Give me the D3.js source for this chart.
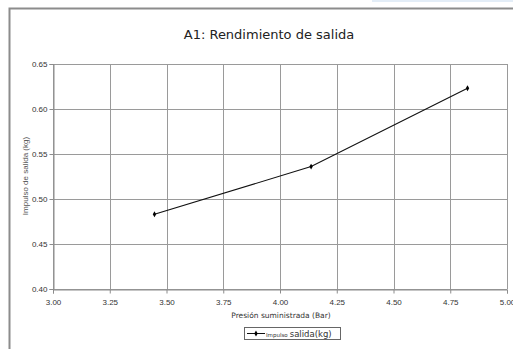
<!DOCTYPE html>
<html><head><meta charset="utf-8">
<script src="https://cdn.jsdelivr.net/npm/d3@7"></script>
<style>body{margin:0;background:#fff;}svg{display:block;}</style>
</head><body>
<script>
const pressure = [3.447, 4.137, 4.826];
const impulse = [0.483, 0.536, 0.623];
const xTicks = [3.00, 3.25, 3.50, 3.75, 4.00, 4.25, 4.50, 4.75, 5.00];
const yTicks = [0.40, 0.45, 0.50, 0.55, 0.60, 0.65];
const title = "A1: Rendimiento de salida";
const xTitle = "Presión suministrada (Bar)";
const yTitle = "Impulso de salida (kg)";
const seriesName = ["Impulso", "salida(kg)"];

const W = 513, H = 349;
const svg = d3.select("body").append("svg").attr("width", W).attr("height", H);
const font = "DejaVu Sans, sans-serif";
const font2 = "Liberation Sans, Arial, sans-serif";

// top-right light bar
svg.append("rect").attr("x", 372).attr("y", 0).attr("width", 141).attr("height", 2).attr("fill", "#e3edf7");
// outer frame
svg.append("path").attr("d", "M9.5,349 V8.5 H513").attr("fill", "none").attr("stroke", "#8c8c8c").attr("stroke-width", 2);

const L = 53, R = 507, T = 64, B = 289;
const x = d3.scaleLinear().domain([3, 5]).range([L, R]);
const y = d3.scaleLinear().domain([0.40, 0.65]).range([B, T]);

const g = svg.append("g");
// grid
g.selectAll(".vg").data(xTicks).join("line")
  .attr("x1", d => Math.round(x(d)) + 0.5).attr("x2", d => Math.round(x(d)) + 0.5)
  .attr("y1", T).attr("y2", B).attr("stroke", "#9a9a9a").attr("stroke-width", 1);
g.selectAll(".hg").data(yTicks).join("line")
  .attr("y1", d => Math.round(y(d)) + 0.5).attr("y2", d => Math.round(y(d)) + 0.5)
  .attr("x1", L).attr("x2", R).attr("stroke", "#9a9a9a").attr("stroke-width", 1);

// axes
const xAxis = d3.axisBottom(x).tickValues(xTicks).tickFormat(d3.format(".2f")).tickSize(4).tickPadding(6);
const yAxis = d3.axisLeft(y).tickValues(yTicks).tickFormat(d3.format(".2f")).tickSize(4).tickPadding(2);
const gx = svg.append("g").attr("transform", `translate(0,${B + 0.5})`).call(xAxis);
const gy = svg.append("g").attr("transform", `translate(${L + 0.5},0)`).call(yAxis);
[gx, gy].forEach(a => {
  a.select(".domain").attr("stroke", "#8c8c8c");
  a.selectAll(".tick line").attr("stroke", "#8c8c8c");
  a.selectAll("text").attr("font-family", font2).attr("font-size", 8).attr("fill", "#333");
});

// line
const line = d3.line().x((d, i) => x(pressure[i])).y(d => y(d));
svg.append("path").datum(impulse).attr("d", line).attr("fill", "none").attr("stroke", "#111").attr("stroke-width", 1.1);
svg.selectAll(".pt").data(impulse).join("path")
  .attr("transform", (d, i) => `translate(${x(pressure[i])},${y(d)})`)
  .attr("d", d3.symbol(d3.symbolDiamond, 10)).attr("fill", "#000");

// titles
svg.append("text").attr("x", 269).attr("y", 39).attr("text-anchor", "middle")
  .attr("font-family", font).attr("font-size", 13).attr("fill", "#222").text(title);
svg.append("text").attr("x", 281).attr("y", 318).attr("text-anchor", "middle")
  .attr("font-family", font).attr("font-size", 7.5).attr("fill", "#333").text(xTitle);
svg.append("text").attr("transform", "translate(28,176) rotate(-90)").attr("text-anchor", "middle")
  .attr("font-family", font2).attr("font-size", 8).attr("fill", "#555").text(yTitle);

// legend
const lg = svg.append("g");
lg.append("rect").attr("x", 244.5).attr("y", 327.5).attr("width", 96).attr("height", 12)
  .attr("fill", "#fff").attr("stroke", "#666").attr("stroke-width", 1);
lg.append("line").attr("x1", 247).attr("x2", 265).attr("y1", 333.5).attr("y2", 333.5).attr("stroke", "#111");
lg.append("path").attr("transform", "translate(256,333.5)").attr("d", d3.symbol(d3.symbolDiamond, 10)).attr("fill", "#000");
const lt = lg.append("text").attr("x", 266).attr("y", 336.5).attr("font-family", font).attr("fill", "#333");
lt.append("tspan").attr("font-size", 5.5).text(seriesName[0]);
lt.append("tspan").attr("font-size", 8.5).attr("dx", 2).text(seriesName[1]);
</script>
</body></html>
